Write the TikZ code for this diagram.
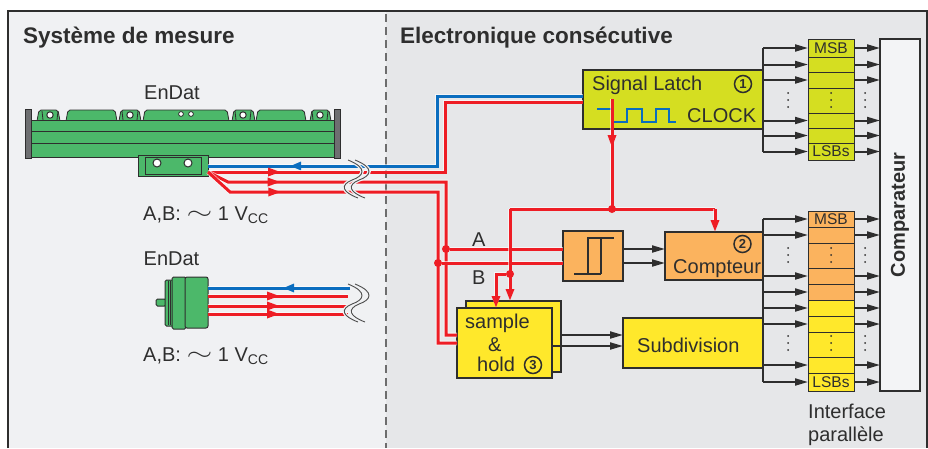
\documentclass[tikz,border=0pt]{standalone}
\usepackage{fontspec}
\usepackage{graphicx}
\setmainfont{Liberation Sans}
\usetikzlibrary{arrows.meta,decorations.markings}

\definecolor{panelL}{HTML}{F0F1F3}
\definecolor{panelR}{HTML}{E6E7E9}
\definecolor{wireR}{HTML}{EE1D25}
\definecolor{wireB}{HTML}{0A6DBF}
\definecolor{lime}{HTML}{D5DE21}
\definecolor{yel}{HTML}{FFE82B}
\definecolor{ora}{HTML}{FBB35E}
\definecolor{grn}{HTML}{4CB86A}
\definecolor{capgray}{HTML}{6E6F71}
\definecolor{compfill}{HTML}{F3F4F6}
\definecolor{ink}{HTML}{2E2E2E}

\newcommand{\acwave}{\raisebox{0.05ex}{\scalebox{1.6}[1.1]{$\sim$}}}

\tikzset{
  box/.style={draw=ink, line width=1.2pt, inner sep=0pt, outer sep=0pt, anchor=north west},
  cell/.style={box, line width=1pt, minimum width=46pt},
  txt/.style={inner sep=0pt, text=ink, font=\fontsize{20}{24}\selectfont},
  small/.style={inner sep=0pt, text=ink, font=\fontsize{15.5}{18}\selectfont},
  title/.style={inner sep=0pt, text=ink, font=\bfseries\fontsize{22.5}{27}\selectfont},
  num/.style={circle, draw=ink, line width=1.5pt, inner sep=0pt, minimum size=17pt,
    text=ink, font=\bfseries\fontsize{13}{13}\selectfont},
  bus/.style={draw=ink, line width=2pt},
  busarrow/.style={bus, -{Triangle[length=13pt,width=7pt]}},
  rw/.style={draw=wireR, line width=3pt, preaction={draw=white, line width=4.6pt, opacity=.6}},
  bw/.style={draw=wireB, line width=3pt, preaction={draw=white, line width=4.6pt, opacity=.6}},
  rarrow/.style={-{Triangle[length=12pt,width=8pt]}},
  rmark/.style={postaction={decorate}, decoration={markings,
    mark=at position #1 with {\arrow[wireR]{Triangle[length=13pt,width=8pt]}}}},
  bmark/.style={postaction={decorate}, decoration={markings,
    mark=at position #1 with {\arrowreversed[wireB]{Triangle[length=11pt,width=8pt]}}}},
  dot/.style={circle, fill=wireR, inner sep=0pt, minimum size=8pt},
  brk/.style={draw=ink!85, line width=.9pt, preaction={draw=panelL, line width=3.5pt}},
}

\begin{document}
\begin{tikzpicture}[x=1pt,y=-1pt]
\useasboundingbox (0,0) rectangle (928,448);
\fill[white] (0,0) rectangle (928,448);
\fill[panelL] (8,11) rectangle (386,448);
\fill[panelR] (386,11) rectangle (927,448);
\draw[ink, line width=1.3pt] (8,448) -- (8,11) -- (927,11) -- (927,448);
\draw[ink!70, line width=1.2pt, dash pattern=on 8pt off 5pt] (386,14) -- (386,448);

\node[title, anchor=base west] (T1) at (23,43) {Système de mesure};
\node[title, anchor=base west] (T2) at (400,43) {Electronique consécutive};

% linear encoder
\filldraw[fill=capgray, draw=ink, line width=.8pt] (25,109) rectangle (31,158);
\filldraw[fill=capgray, draw=ink, line width=.8pt] (334,109) rectangle (340,158);
\foreach \xa/\xb in {37/60,66/117,119/141,143/229,232/255,256/306,310/331}
  \filldraw[fill=grn, draw=ink, line width=.8pt, rounded corners=2pt]
    (\xa,121) -- ({\xa+2},110) -- ({\xb-2},110) -- (\xb,121);
\filldraw[fill=grn, draw=ink, line width=1pt] (31,120) rectangle (334,157);
\draw[ink, line width=1pt] (31,131) -- (334,131) (31,143) -- (334,143);
\foreach \x in {50,130,243,320} {
  \draw[ink, line width=.8pt] ({\x-8},111) -- ({\x-7},120) ({\x+8},111) -- ({\x+7},120);
  \filldraw[fill=white, draw=ink, line width=1pt] (\x,115) circle (3.2pt);
}
\foreach \x in {181,191}
  \filldraw[fill=white, draw=ink, line width=.8pt] (\x,114) circle (2.4pt);
\node[box, fill=grn, line width=1pt, minimum width=70pt, minimum height=21pt] (H) at (138,155) {};
\draw[ink, line width=.8pt] (145,157) rectangle (201,174);
\foreach \x in {157,188}
  \filldraw[fill=white, draw=ink, line width=1pt] (\x,163) circle (4pt);

% rotary encoder
\filldraw[fill=grn, draw=ink, line width=1pt, rounded corners=1.5pt] (156,299) rectangle (166,306);
\filldraw[fill=grn, draw=ink, line width=1pt, rounded corners=1.5pt] (165,280) rectangle (174,326);
\filldraw[fill=grn, draw=ink, line width=1pt, rounded corners=1.5pt] (172,277) rectangle (186,329);
\draw[ink, line width=.8pt] (168,281) -- (168,325) (170,281) -- (170,325);
\node[box, fill=grn, line width=1pt, rounded corners=2pt, minimum width=23pt, minimum height=51pt] (E) at (185,277) {};

\node[txt] (EA) at (172,93) {EnDat};
\node[txt] (EB) at (171.5,259) {EnDat};
\node[txt, anchor=base west] (VA) at (143,220) {A,B: \acwave\ 1 V{\fontsize{14}{14}\selectfont\raisebox{-3pt}{CC}}};
\node[txt, anchor=base west] (VB) at (143,361) {A,B: \acwave\ 1 V{\fontsize{14}{14}\selectfont\raisebox{-3pt}{CC}}};

% blocks
\node[box, fill=lime, minimum width=180pt, minimum height=59pt] (SL) at (583,70) {};
\node[box, fill=ora, minimum width=60pt, minimum height=50pt] (TR) at (563,231) {};
\node[box, fill=ora, minimum width=98pt, minimum height=48pt] (CP) at (665,232) {};
\node[box, fill=yel, minimum width=95pt, minimum height=71pt] (SH1) at (466,301) {};
\node[box, fill=yel, minimum width=95pt, minimum height=70pt] (SH2) at (457,308) {};
\node[box, fill=yel, minimum width=140pt, minimum height=50pt] (SD) at (623,318) {};
\node[box, fill=compfill, minimum width=40pt, minimum height=352pt] (CM) at (880,39) {};

\draw[ink, line width=1.6pt] (574,274) -- (601,274) (588,274) -- (588,238) -- (614,238) (601,238) -- (601,274);
\draw[wireB, line width=2.5pt] (597,109) -- (613,109) -- (613,122) -- (627,122) -- (627,109) -- (642,109)
  -- (642,122) -- (656,122) -- (656,109) -- (669,109) -- (669,122) -- (676,122);

\foreach \ya/\yb/\nn in {39/57/1,57/72/2,72/88/3,88/113/4,113/128/5,128/143/6,143/160/7} {
  \pgfmathsetmacro\hh{\yb-\ya}
  \node[cell, fill=lime, minimum height=\hh pt] (RA\nn) at (808,\ya) {};
}
\foreach \ya/\yb/\nn/\cc in {211/227/1/ora,227/243/2/ora,243/268/3/ora,268/284/4/ora,284/300/5/ora,
  300/316/6/yel,316/332/7/yel,332/357/8/yel,357/373/9/yel,373/391/10/yel} {
  \pgfmathsetmacro\hh{\yb-\ya}
  \node[cell, fill=\cc, minimum height=\hh pt] (RB\nn) at (808,\ya) {};
}

% parallel buses
\draw[bus] (RA1.west -| SL.east) -- (RA7.west -| SL.east);
\foreach \nn in {1,2,3,5,6,7} {
  \draw[busarrow] (RA\nn.west -| SL.east) -- (RA\nn.west);
  \draw[busarrow] (RA\nn.east) -- (RA\nn.east -| CM.west);
}
\draw[bus] (RB1.west -| CP.east) -- (RB10.west -| CP.east);
\foreach \nn in {1,2,4,5,6,7,9,10} {
  \draw[busarrow] (RB\nn.west -| CP.east) -- (RB\nn.west);
  \draw[busarrow] (RB\nn.east) -- (RB\nn.east -| CM.west);
}
\foreach \x in {788,831,865}
  \foreach \y in {100,255,343}
    \foreach \d in {-7,0,7}
      \fill[ink] (\x,{\y+\d}) circle (1pt);

\draw[busarrow] (TR.east |- 0,249) -- (CP.west |- 0,249);
\draw[busarrow] (TR.east |- 0,263) -- (CP.west |- 0,263);
\draw[busarrow] (SH1.east |- 0,335) -- (SD.west |- 0,335);
\draw[busarrow] (SH2.east |- 0,346) -- (SD.west |- 0,346);

% cables
\draw[bw, bmark=82pt] (208,166) -- (437,166) -- (437,96) -- (SL.west |- 0,96);
\draw[rw, rmark=73pt] (208,172) -- (445,172) -- (445,102) -- (SL.west |- 0,102);
\draw[rw, rmark=75pt] (208,172) -- (228,182) -- (446,182) -- (446,335) -- (SH2.west |- 0,335);
\draw[rw, rmark=81pt] (208,172) -- (230,192) -- (438,192) -- (438,343) -- (SH2.west |- 0,343);
\draw[bw, bmark=75pt] (E.east |- 0,288) -- (350,288);
\foreach \y in {296,306,314}
  \draw[rw, rmark=72pt] (E.east |- 0,\y) -- (348,\y);
\foreach \dy in {0,124}
  \foreach \s in {0,7}
    \draw[brk] ({348+\s},{160+\dy}) .. controls ({368+\s},{168+\dy}) and ({364+\s},{176+\dy}) .. ({352+\s},{180+\dy})
      .. controls ({340+\s},{185+\dy}) and ({342+\s},{192+\dy}) .. ({358+\s},{198+\dy});

\node[dot] (DA) at (446,249) {};
\node[dot] (DB) at (438,263) {};
\draw[rw] (DA) -- (TR.west |- DA);
\draw[rw] (DB) -- (TR.west |- DB);

\coordinate (LC) at (612,99);
\coordinate (K1) at (510,209);
\coordinate (K2) at (715,209);
\coordinate (K3) at (496,274);
\draw[rw, rmark=49pt] (LC) -- (612,209);
\draw[rw] (K1) -- (K2);
\draw[rw, rarrow] (K2) -- (K2 |- CP.north);
\draw[rw, rarrow] (K1) -- (K1 |- SH1.north);
\node[dot] (DD) at (510,274) {};
\draw[rw, rarrow] (DD) -- (K3) -- (K3 |- SH2.north);
\node[dot] (DC) at (612,209) {};

% labels
\node[txt, anchor=base west] (slT) at (592,90) {Signal Latch};
\node[txt, anchor=base west] (ckT) at (687,122.5) {CLOCK};
\node[num] (N1) at (743,84) {1};
\node[txt, anchor=base west] (aT) at (472,246) {A};
\node[txt, anchor=base west] (bT) at (472,284) {B};
\node[txt, anchor=base west] (cpT) at (673,273) {Compteur};
\node[num] (N2) at (742.5,244) {2};
\node[txt, anchor=base west] (shT1) at (465,328) {sample};
\node[txt, anchor=base west] (shT2) at (488,351.5) {\&};
\node[txt, anchor=base west] (shT3) at (477,371.5) {hold};
\node[num] (N3) at (533,365) {3};
\node[txt, anchor=base west] (sdT) at (637,352) {Subdivision};
\node[small] (mA) at (RA1) {MSB};
\node[small] (lA) at (RA7) {LSBs};
\node[small] (mB) at (RB1) {MSB};
\node[small] (lB) at (RB10) {LSBs};
\node[txt, anchor=base west] (ipT1) at (808,418) {Interface};
\node[txt, anchor=base west] (ipT2) at (808,441) {parallèle};
\node[inner sep=0pt, text=ink, font=\bfseries\fontsize{20}{24}\selectfont, rotate=90] (cmT) at (CM.center) {Comparateur};
\end{tikzpicture}
\end{document}
